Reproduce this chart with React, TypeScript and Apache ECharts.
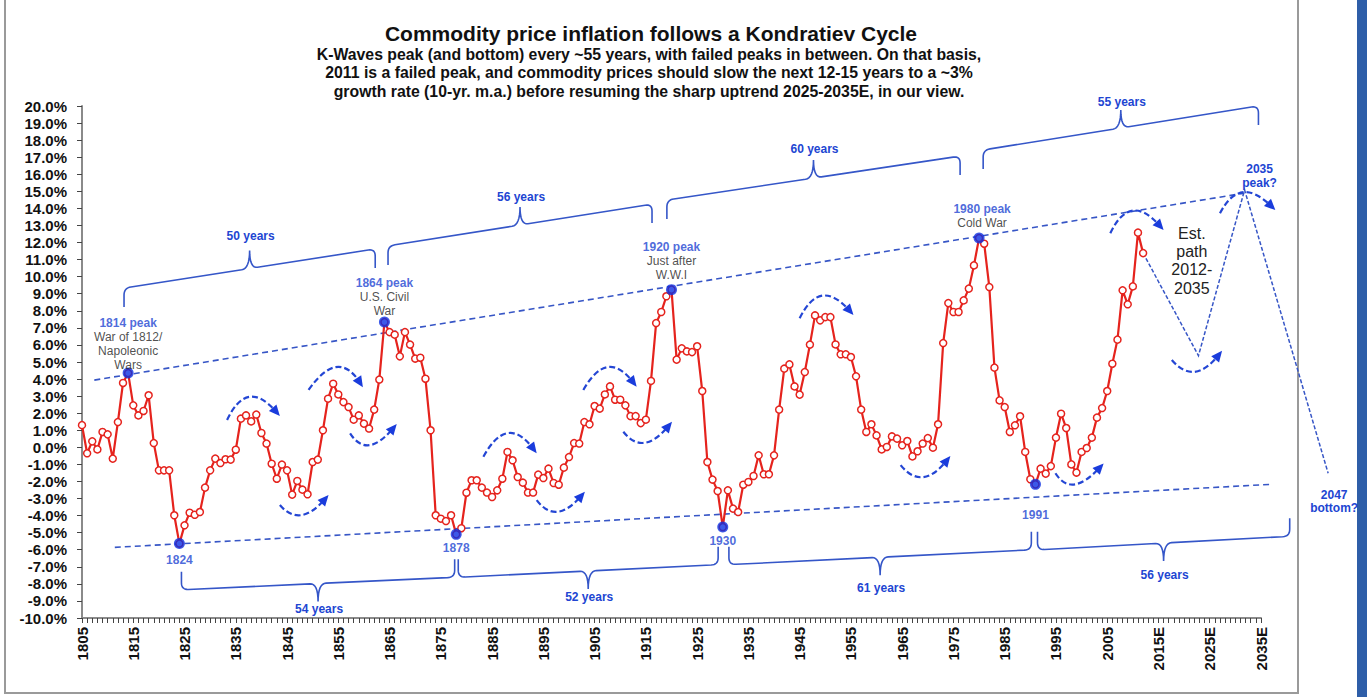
import React, { useEffect, useRef } from "react";
import * as echarts from "echarts";

const FONT = '"Liberation Sans", Arial, Helvetica, sans-serif';

// ---------- data ----------
const firstYear = 1805;
const axisMinYear = 1805;
const axisMaxYear = 2035;

// 10-yr m.a. commodity price inflation, %, 1805..2012
const inflation: number[] = [
  1.3, -0.35, 0.35, -0.12, 0.9, 0.76, -0.66, 1.48, 3.77, 4.35,
  2.46, 1.87, 2.13, 3.05, 0.25, -1.35, -1.35, -1.35, -3.98, -5.64,
  -4.57, -3.83, -3.95, -3.79, -2.36, -1.35, -0.66, -0.92, -0.7, -0.72,
  -0.14, 1.68, 1.87, 1.52, 1.92, 0.84, 0.22, -0.96, -1.84, -1.01,
  -1.35, -2.77, -1.97, -2.48, -2.75, -0.86, -0.72, 1.0, 2.85, 3.73,
  3.1, 2.65, 2.36, 1.62, 1.87, 1.39, 1.1, 2.21, 3.97, 7.34,
  6.75, 6.6, 5.33, 6.75, 6.02, 5.2, 5.25, 4.02, 1.0, -3.98,
  -4.18, -4.32, -3.98, -5.1, -4.74, -2.66, -1.93, -1.93, -2.36, -2.65,
  -2.91, -2.52, -1.84, -0.27, -0.76, -1.74, -2.07, -2.65, -2.65, -1.6,
  -1.8, -1.25, -2.09, -2.19, -1.19, -0.57, 0.25, 0.22, 1.48, 1.35,
  2.42, 2.27, 3.1, 3.57, 2.79, 2.79, 2.46, 1.83, 1.83, 1.42,
  1.62, 3.89, 7.28, 7.93, 8.85, 9.24, 5.14, 5.8, 5.62, 5.58,
  5.92, 3.3, -0.86, -1.89, -2.56, -4.67, -2.52, -3.59, -3.79, -2.19,
  -2.03, -1.68, -0.47, -1.58, -1.58, -0.47, 2.21, 4.61, 4.86, 3.57,
  3.09, 4.41, 6.02, 7.73, 7.44, 7.63, 7.63, 6.03, 5.45, 5.45,
  5.29, 4.16, 2.21, 0.9, 1.35, 0.7, -0.12, 0.02, 0.64, 0.51,
  0.12, 0.37, -0.53, -0.23, 0.22, 0.54, -0.02, 1.35, 6.11, 8.45,
  7.93, 7.93, 8.61, 9.3, 10.66, 12.26, 11.93, 9.39, 4.67, 2.75,
  2.36, 0.9, 1.29, 1.82, -0.27, -1.87, -2.17, -1.25, -1.54, -1.1,
  0.57, 1.97, 1.13, -1.0, -1.48, -0.27, -0.04, 0.57, 1.74, 2.3,
  3.3, 4.9, 6.31, 9.2, 8.38, 9.43, 12.58, 11.38,
];

const peakYears = [1814, 1864, 1920, 1980];
const peakValues = [4.35, 7.34, 9.24, 12.26];
const peakTitles = ["1814 peak", "1864 peak", "1920 peak", "1980 peak"];
const peakNotes = [
  ["War of 1812/", "Napoleonic", "Wars"],
  ["U.S. Civil", "War"],
  ["Just after", "W.W.I"],
  ["Cold War"],
];
const troughYears = [1824, 1878, 1930, 1991];
const troughValues = [-5.64, -5.1, -4.67, -2.17];

const upperTrendYears = [1807.4, 2031.5];
const upperTrendValues = [3.94, 14.88];
const lowerTrendYears = [1811.4, 2036.8];
const lowerTrendValues = [-5.86, -2.17];

const pathYears = [2012, 2022.8, 2031.8, 2048.1];
const pathValues = [11.38, 5.37, 15.08, -1.52];

const braceLabels = ["50 years", "56 years", "60 years", "55 years", "54 years", "52 years", "61 years", "56 years"];
const braceFrom = [
  [1813.2, 8.22], [1864.7, 10.69], [1919.1, 13.38], [1980.8, 16.31],
  [1824.4, -7.29], [1878.4, -6.56], [1931.2, -5.82], [1991.4, -4.95],
];
const braceTo = [
  [1862.2, 10.51], [1916.2, 13.14], [1976.3, 15.95], [2034.5, 18.89],
  [1877.7, -6.56], [1929.1, -5.82], [1990.2, -4.95], [2040.6, -4.16],
];

const arcStarts = [
  [1833.3, 1.6], [1843.6, -3.38], [1849.2, 3.36], [1857.3, 0.82], [1883.3, -0.55], [1893.7, -3.09], [1902.8, 3.36],
  [1910.6, 0.91], [1945.0, 7.56], [1964.7, -1.04], [1994.9, -1.52], [2005.6, 12.54], [2017.6, 5.12], [2027.0, 13.71],
];
const arcMids = [
  [1837.8, 2.89], [1847.9, -3.91], [1854.7, 4.63], [1861.2, 0.19], [1888.2, 0.76], [1897.9, -3.71], [1907.7, 4.63],
  [1914.9, 0.33], [1949.6, 8.82], [1969.2, -1.68], [1998.8, -2.11], [2010.1, 13.8], [2022.2, 4.49], [2031.6, 14.88],
];
const arcEnds = [
  [1843.6, 1.83], [1853.1, -2.79], [1859.8, 3.52], [1866.4, 1.37], [1893.7, -0.35], [1903.1, -2.6], [1913.2, 3.55],
  [1920.1, 1.5], [1955.5, 7.75], [1974.4, -0.51], [2004.3, -0.94], [2016.0, 12.73], [2027.4, 5.66], [2037.8, 13.9],
];

const titleText = "Commodity price inflation follows a Kondratiev Cycle";
const subtitleLines = [
  "K-Waves peak (and bottom) every ~55 years, with failed peaks in between. On that basis,",
  "2011 is a failed peak, and commodity prices should slow the next 12-15 years to a ~3%",
  "growth rate (10-yr. m.a.) before resuming the sharp uptrend 2025-2035E, in our view.",
];
const estPathLines = ["Est.", "path", "2012-", "2035"];
const estPathAnchor = [2021.5, 12.54];

// ---------- styles ----------
const RED = "#e5231d";
const DOT = "#0b2fe2";
const BLUE_TXT = "#2145d2";
const LINE_BLUE = "#3756c6";
const ARC_BLUE = "#2446d4";
const peakLabelOffsets = [[0, 4], [0, 1], [0, -2], [3, -3]];
const troughLabelDist = [4, 1.5, 1, 18.5];
const braceLabelDy = [-15, -10, -11, -8, 7, 8, 13, 14];

type P = number[];

function quad(p0: P, c: P, p1: P, n = 8): P[] {
  const out: P[] = [];
  for (let i = 1; i <= n; i++) {
    const t = i / n;
    const a = (1 - t) * (1 - t), b = 2 * (1 - t) * t, d = t * t;
    out.push([a * p0[0] + b * c[0] + d * p1[0], a * p0[1] + b * c[1] + d * p1[1]]);
  }
  return out;
}

function bracePoints(A: P, B: P, s: number, h: number, t: number, r: number, dl: number) {
  const CA = [A[0], A[1] + s * h];
  const CB = [B[0], B[1] + s * h];
  const dx = CB[0] - CA[0], dy = CB[1] - CA[1];
  const len = Math.hypot(dx, dy);
  const u = [dx / len, dy / len];
  const M = [(CA[0] + CB[0]) / 2, (CA[1] + CB[1]) / 2];
  const T = [M[0], M[1] + s * t];
  const at = (p: P, k: number) => [p[0] + u[0] * k, p[1] + u[1] * k];
  const a1 = [A[0], A[1] + s * (h - r)];
  const b1 = [B[0], B[1] + s * (h - r)];
  const pts: P[] = [A, a1];
  pts.push(...quad(a1, CA, at(CA, r)));
  pts.push(at(M, -dl));
  pts.push(...quad(at(M, -dl), M, T));
  pts.push(...quad(T, M, at(M, dl)));
  pts.push(at(CB, -r));
  pts.push(...quad(at(CB, -r), CB, b1));
  pts.push(B);
  return { pts, tip: T };
}

export default function App() {
  const ref = useRef<HTMLDivElement>(null);

  useEffect(() => {
    const el = ref.current;
    if (!el) return;
    const chart = echarts.init(el, null, { renderer: "svg" });

    const seriesData = inflation.map((v, i) => [firstYear + i, v]);

    const option: any = {
      animation: false,
      backgroundColor: "#ffffff",
      textStyle: { fontFamily: FONT },
      grid: { left: 82, right: 109, top: 106, bottom: 79, containLabel: false },
      xAxis: {
        type: "value",
        min: axisMinYear,
        max: axisMaxYear,
        interval: 1,
        axisLine: { show: true, onZero: false, lineStyle: { color: "#8a8a8a", width: 2 } },
        axisTick: { show: true, length: 5, lineStyle: { color: "#444", width: 1 } },
        splitLine: { show: false },
        axisLabel: {
          rotate: 90,
          margin: 9,
          fontSize: 15,
          fontWeight: "bold",
          color: "#111",
          fontFamily: FONT,
          formatter: (v: number) => {
            const y = Math.round(v);
            if ((y - axisMinYear) % 10 !== 0) return "";
            return y >= 2015 ? y + "E" : String(y);
          },
        },
      },
      yAxis: {
        type: "value",
        min: -10,
        max: 20,
        interval: 1,
        axisLine: { show: true, onZero: false, lineStyle: { color: "#8a8a8a", width: 2 } },
        axisTick: { show: true, length: 5, lineStyle: { color: "#444", width: 1 } },
        splitLine: { show: false },
        axisLabel: {
          margin: 15,
          fontSize: 15,
          fontWeight: "bold",
          color: "#111",
          fontFamily: FONT,
          formatter: (v: number) => v.toFixed(1) + "%",
        },
      },
      series: [
        {
          name: "inflation",
          type: "line",
          data: seriesData,
          symbol: "circle",
          symbolSize: 7,
          itemStyle: { color: "#ffffff", borderColor: RED, borderWidth: 1.5 },
          lineStyle: { color: RED, width: 2.2 },
          z: 5,
        },
        {
          name: "peaks",
          type: "scatter",
          symbolSize: 11,
          itemStyle: { color: DOT },
          z: 8,
          data: peakYears.map((y, i) => ({
            value: [y, peakValues[i]],
            label: {
              show: true,
              position: "top",
              distance: 0,
              offset: peakLabelOffsets[i],
              formatter: ["{t|" + peakTitles[i] + "}", ...peakNotes[i].map((n) => "{n|" + n + "}")].join("\n"),
              rich: {
                t: { fontSize: 12, fontWeight: "bold", color: BLUE_TXT, fontFamily: FONT, lineHeight: 14 },
                n: { fontSize: 12, color: "#222", fontFamily: FONT, lineHeight: 14 },
              },
            },
          })),
        },
        {
          name: "troughs",
          type: "scatter",
          symbolSize: 11,
          itemStyle: { color: DOT },
          z: 8,
          data: troughYears.map((y, i) => ({
            value: [y, troughValues[i]],
            label: {
              show: true,
              position: "bottom",
              distance: troughLabelDist[i],
              formatter: String(y),
              fontSize: 12,
              fontWeight: "bold",
              color: BLUE_TXT,
              fontFamily: FONT,
              lineHeight: 14,
            },
          })),
        },
      ],
    };

    chart.setOption(option);

    const px = (p: P) => chart.convertToPixel({ gridIndex: 0 } as any, p) as number[];
    const g: any[] = [];

    // frame and side bar
    g.push({
      type: "rect",
      silent: true,
      shape: { x: 5, y: -4, width: 1293, height: 697 },
      style: { fill: "none", stroke: "#9a9a9a", lineWidth: 2 },
      z: 1,
    });
    g.push({
      type: "rect",
      silent: true,
      shape: { x: 1357, y: 0, width: 10, height: 697 },
      style: { fill: "#2e5ea8" },
      z: 1,
    });

    // dashed trend channel and projected path (through axis scales)
    const dashedLine = (xs: number[], ys: number[], dash: number[], w: number) => {
      g.push({
        type: "polyline",
        silent: true,
        shape: { points: xs.map((x, i) => px([x, ys[i]])) },
        style: { stroke: LINE_BLUE, lineWidth: w, lineDash: dash, fill: "none" },
        z: 3,
      });
    };
    dashedLine(upperTrendYears, upperTrendValues, [6, 4], 1.6);
    dashedLine(lowerTrendYears, lowerTrendValues, [6, 4], 1.6);
    dashedLine(pathYears, pathValues, [4, 2], 1.5);

    // titles
    g.push({
      type: "text",
      x: 651,
      y: 33,
      style: { text: titleText, fill: "#111", font: 'bold 21px "Liberation Sans", Arial, sans-serif', textAlign: "center", textVerticalAlign: "middle" },
      z: 20,
    });
    subtitleLines.forEach((line, i) => {
      g.push({
        type: "text",
        x: 649,
        y: 54 + i * 18.5,
        style: { text: line, fill: "#111", font: 'bold 15.8px "Liberation Sans", Arial, sans-serif', textAlign: "center", textVerticalAlign: "middle" },
        z: 20,
      });
    });

    // braces
    braceLabels.forEach((label, i) => {
      const A = px(braceFrom[i]);
      const B = px(braceTo[i]);
      const s = i < 4 ? -1 : 1;
      const { pts, tip } = bracePoints(A, B, s, i < 4 ? 19 : 18, 18, 7, 8);
      g.push({
        type: "polyline",
        silent: true,
        shape: { points: pts },
        style: { stroke: "#3556c8", lineWidth: 1.6, fill: "none" },
        z: 10,
      });
      g.push({
        type: "text",
        x: tip[0] + 1,
        y: tip[1] + braceLabelDy[i],
        style: { text: label, fill: BLUE_TXT, font: 'bold 12px "Liberation Sans", Arial, sans-serif', textAlign: "center", textVerticalAlign: "middle" },
        z: 20,
      });
    });

    // dashed trend arrows
    arcStarts.forEach((sd, i) => {
      const S = px(sd);
      const Mp = px(arcMids[i]);
      const E = px(arcEnds[i]);
      const C = [2 * Mp[0] - (S[0] + E[0]) / 2, 2 * Mp[1] - (S[1] + E[1]) / 2];
      const dx = E[0] - C[0], dy = E[1] - C[1];
      const len = Math.hypot(dx, dy) || 1;
      const u = [dx / len, dy / len];
      const nrm = [-u[1], u[0]];
      const base = [E[0] - u[0] * 11, E[1] - u[1] * 11];
      const endLine = [E[0] - u[0] * 6, E[1] - u[1] * 6];
      g.push({
        type: "bezierCurve",
        silent: true,
        shape: { x1: S[0], y1: S[1], x2: endLine[0], y2: endLine[1], cpx1: C[0], cpy1: C[1] },
        style: { stroke: ARC_BLUE, lineWidth: 2.2, lineDash: [6, 3], fill: "none" },
        z: 10,
      });
      g.push({
        type: "polygon",
        silent: true,
        shape: {
          points: [
            [E[0], E[1]],
            [base[0] + nrm[0] * 5, base[1] + nrm[1] * 5],
            [base[0] - nrm[0] * 5, base[1] - nrm[1] * 5],
          ],
        },
        style: { fill: "#1a3cdc" },
        z: 11,
      });
    });

    // estimated path text
    const ep = px(estPathAnchor);
    estPathLines.forEach((line, i) => {
      g.push({
        type: "text",
        x: ep[0],
        y: ep[1] + i * 18.3,
        style: { text: line, fill: "#222", font: '16px "Liberation Sans", Arial, sans-serif', textAlign: "center", textVerticalAlign: "middle" },
        z: 20,
      });
    });

    // projection labels
    const pk = px([pathYears[2], pathValues[2]]);
    ["2035", "peak?"].forEach((line, i) => {
      g.push({
        type: "text",
        x: pk[0] + 15,
        y: pk[1] - 21 + i * 14,
        style: { text: line, fill: BLUE_TXT, font: 'bold 12px "Liberation Sans", Arial, sans-serif', textAlign: "center", textVerticalAlign: "middle" },
        z: 20,
      });
    });
    const bt = px([pathYears[3], pathValues[3]]);
    ["2047", "bottom?"].forEach((line, i) => {
      g.push({
        type: "text",
        x: bt[0] + 6,
        y: bt[1] + 22 + i * 13,
        style: { text: line, fill: BLUE_TXT, font: 'bold 12px "Liberation Sans", Arial, sans-serif', textAlign: "center", textVerticalAlign: "middle" },
        z: 20,
      });
    });

    chart.setOption({ graphic: g });

    return () => {
      chart.dispose();
    };
  }, []);

  return (
    <div
      ref={ref}
      style={{ position: "absolute", left: 0, top: 0, width: 1370, height: 697, background: "#ffffff" }}
    />
  );
}
